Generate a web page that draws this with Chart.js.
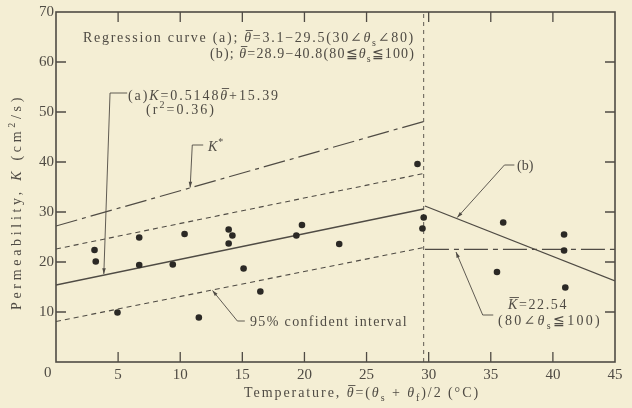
<!DOCTYPE html>
<html>
<head>
<meta charset="utf-8">
<script src="https://cdn.jsdelivr.net/npm/chart.js@4/dist/chart.umd.min.js"></script>
<style>
  html, body { margin: 0; padding: 0; background: #f4eed4; overflow: hidden; }
  canvas { display: block; }
</style>
</head>
<body>
<canvas id="perm" width="632" height="408"></canvas>
<script>
// measured points, mean temperature vs permeability
const pointTheta = [3.1, 3.2, 4.95, 6.7, 6.7, 9.4, 10.35, 11.5, 13.9, 13.9, 14.2, 15.1, 16.45, 19.35, 19.8, 22.8, 29.1, 29.6, 29.5, 35.5, 36.0, 40.9, 40.9, 41.0];
const pointK = [22.4, 20.1, 9.9, 24.9, 19.4, 19.5, 25.6, 8.9, 26.5, 23.7, 25.3, 18.7, 14.1, 25.3, 27.4, 23.6, 39.6, 28.9, 26.7, 18.0, 27.9, 25.5, 22.3, 14.9];

// lines for range (a), ends at theta 0 and 29.6
const thetaA = [0, 29.6];
const regA = [15.4, 30.6];
const kStar = [27.2, 48.1];
const band95Up = [22.6, 37.7];
const band95Low = [8.1, 22.9];

// lines for range (b)
const thetaB = [29.7, 45];
const regB = [31.2, 16.2];
const kBar = [22.54, 22.54];

// divider between (a) and (b)
const dividerTheta = [29.6, 29.6];
const dividerK = [0, 70];

const xTicks = [5, 10, 15, 20, 25, 30, 35, 40];
const yTicks = [10, 20, 30, 40, 50, 60];

const ink = '#4f4b44';
const FONT = '"Liberation Serif", "DejaVu Serif", serif';

const pts = (xs, ys) => xs.map((x, i) => ({ x, y: ys[i] }));

const lineSet = (data, dash, width) => ({
  type: 'line',
  data,
  borderColor: ink,
  borderWidth: width || 1.2,
  borderDash: dash || [],
  pointRadius: 0,
  fill: false,
  tension: 0,
});

// small rich text helper: [text, style] with style i / io (italic overline) / sub / sup
function rich(ctx, x, y, parts, size, draw) {
  let cx = x;
  parts.forEach(([t, st]) => {
    st = st || '';
    const small = st.includes('sub') || st.includes('sup');
    const fs = small ? Math.round(size * 0.68) : size;
    ctx.font = (st.includes('i') ? 'italic ' : '') + fs + 'px ' + FONT;
    const dy = st.includes('sub') ? size * 0.25 : st.includes('sup') ? -size * 0.45 : 0;
    const w = ctx.measureText(t).width;
    if (draw) {
      ctx.fillText(t, cx, y + dy);
      if (st.includes('o')) {
        ctx.beginPath();
        ctx.moveTo(cx + 1.5, y - size * 0.82);
        ctx.lineTo(cx + w, y - size * 0.82);
        ctx.stroke();
      }
    }
    cx += w;
  });
  return cx - x;
}

// draw rich text stretched (by letter spacing) to a given width
function richFit(ctx, x, y, parts, size, width) {
  ctx.letterSpacing = '0px';
  const w0 = rich(ctx, x, y, parts, size, false);
  const n = parts.reduce((s, p) => s + [...p[0]].length, 0);
  ctx.letterSpacing = Math.max(0, (width - w0) / n) + 'px';
  rich(ctx, x, y, parts, size, true);
  ctx.letterSpacing = '0px';
}

const annotations = [
  { px: 83, py: 42, w: 332, parts: [['Regression curve (a); '], ['θ', 'io'], ['=3.1−29.5(30∠'], ['θ', 'i'], ['s', 'sub'], ['∠80)']] },
  { px: 210, py: 58, w: 205, parts: [['(b); '], ['θ', 'io'], ['=28.9−40.8(80≦'], ['θ', 'i'], ['s', 'sub'], ['≦100)']] },
  { px: 128, py: 100, w: 152, parts: [['(a)'], ['K', 'i'], ['=0.5148'], ['θ', 'io'], ['+15.39']] },
  { px: 146, py: 114, w: 70, parts: [['(r'], ['2', 'sup'], ['=0.36)']] },
  { px: 208, py: 151, w: 16, parts: [['K', 'i'], ['*', 'sup']] },
  { px: 517, py: 170, w: 16, parts: [['(b)']] },
  { px: 508, py: 309, w: 60, parts: [['K', 'io'], ['=22.54']] },
  { px: 498, py: 325, w: 104, parts: [['(80∠'], ['θ', 'i'], ['s', 'sub'], ['≦100)']] },
  { px: 250, py: 326, w: 158, parts: [['95% confident interval']] },
];

// leader lines in data units, arrow at the last point
const leaders = [
  [[5.73, 53.8], [4.35, 53.8], [3.85, 17.6]],
  [[11.85, 43.4], [10.97, 43.4], [10.8, 34.9]],
  [[36.9, 39.4], [36.1, 39.4], [32.3, 28.9]],
  [[35.2, 9.4], [34.35, 9.4], [32.2, 22.0]],
  [[15.2, 8.2], [14.6, 8.2], [12.6, 14.3]],
];

const decor = {
  id: 'decor',
  beforeDraw(chart) {
    const { ctx, canvas } = chart;
    ctx.save();
    ctx.fillStyle = '#f4eed4';
    ctx.fillRect(0, 0, canvas.width, canvas.height);
    ctx.restore();
  },
  afterDraw(chart) {
    const { ctx, chartArea: a, scales: { x, y } } = chart;
    ctx.save();
    ctx.strokeStyle = ink;
    ctx.fillStyle = ink;
    ctx.lineWidth = 1.6;
    ctx.strokeRect(a.left, a.top, a.right - a.left, a.bottom - a.top);

    // inward ticks on all four sides
    ctx.lineWidth = 1.3;
    ctx.beginPath();
    xTicks.forEach(v => {
      const p = x.getPixelForValue(v);
      ctx.moveTo(p, a.bottom); ctx.lineTo(p, a.bottom - 10);
      ctx.moveTo(p, a.top); ctx.lineTo(p, a.top + 10);
    });
    yTicks.forEach(v => {
      const p = y.getPixelForValue(v);
      ctx.moveTo(a.left, p); ctx.lineTo(a.left + 10, p);
      ctx.moveTo(a.right, p); ctx.lineTo(a.right - 10, p);
    });
    ctx.stroke();

    // leaders with arrow heads
    ctx.lineWidth = 0.9;
    leaders.forEach(l => {
      const pp = l.map(([u, v]) => [x.getPixelForValue(u), y.getPixelForValue(v)]);
      ctx.beginPath();
      pp.forEach(([px, py], i) => i ? ctx.lineTo(px, py) : ctx.moveTo(px, py));
      ctx.stroke();
      const [x1, y1] = pp[pp.length - 2], [x2, y2] = pp[pp.length - 1];
      const ang = Math.atan2(y2 - y1, x2 - x1);
      ctx.beginPath();
      ctx.moveTo(x2, y2);
      ctx.lineTo(x2 - 6 * Math.cos(ang - 0.3), y2 - 6 * Math.sin(ang - 0.3));
      ctx.lineTo(x2 - 6 * Math.cos(ang + 0.3), y2 - 6 * Math.sin(ang + 0.3));
      ctx.closePath();
      ctx.fill();
    });

    // annotation texts
    ctx.lineWidth = 0.9;
    ctx.textBaseline = 'alphabetic';
    annotations.forEach(t => richFit(ctx, t.px, t.py, t.parts, 14, t.w));

    // corner zero
    ctx.font = '15px ' + FONT;
    ctx.fillText('0', 44, 377);

    // axis titles
    const xt = [['Temperature, '], ['θ', 'io'], ['=('], ['θ', 'i'], ['s', 'sub'], [' + '], ['θ', 'i'], ['f', 'sub'], [')/2 (°C)']];
    richFit(ctx, 244, 397, xt, 14, 236);
    const yt = [['Permeability, '], ['K', 'i'], [' (cm'], ['2', 'sup'], ['/s)']];
    ctx.translate(21, 310);
    ctx.rotate(-Math.PI / 2);
    richFit(ctx, 0, 0, yt, 14, 216);
    ctx.restore();
  }
};

new Chart(document.getElementById('perm'), {
  type: 'scatter',
  data: {
    datasets: [
      { type: 'scatter', data: pts(pointTheta, pointK), backgroundColor: '#2b2925', borderWidth: 0, pointRadius: 3.3 },
      lineSet(pts(thetaA, regA), [], 1.3),
      lineSet(pts(thetaA, kStar), [22, 5, 4, 5], 1.2),
      lineSet(pts(thetaA, band95Up), [5, 4], 1.1),
      lineSet(pts(thetaA, band95Low), [5, 4], 1.1),
      lineSet(pts(thetaB, regB), [], 1.3),
      lineSet(pts(thetaB, kBar), [24, 5, 5, 5], 1.2),
      lineSet(pts(dividerTheta, dividerK), [4, 4], 0.9),
    ]
  },
  options: {
    responsive: false,
    animation: false,
    devicePixelRatio: 1,
    layout: { padding: { top: 12, right: 17, left: 0, bottom: 0 } },
    plugins: { legend: { display: false }, tooltip: { enabled: false } },
    scales: {
      x: {
        type: 'linear', min: 0, max: 45,
        grid: { display: false, drawTicks: false, tickLength: 0 }, border: { display: false },
        afterFit: s => { s.height = 46; },
        ticks: {
          stepSize: 5, padding: 4, color: ink,
          font: { family: FONT, size: 15 },
          callback: v => v === 0 ? '' : v,
        }
      },
      y: {
        type: 'linear', min: 0, max: 70,
        grid: { display: false, drawTicks: false, tickLength: 0 }, border: { display: false },
        afterFit: s => { s.width = 56; },
        ticks: {
          stepSize: 10, padding: 2, color: ink,
          font: { family: FONT, size: 15 },
          callback: v => v === 0 ? '' : v,
        }
      }
    }
  },
  plugins: [decor]
});
</script>
</body>
</html>
